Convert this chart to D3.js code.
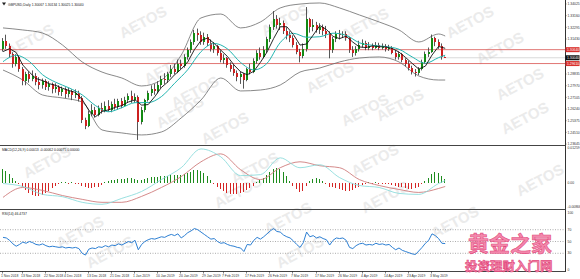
<!DOCTYPE html>
<html>
<head>
<meta charset="utf-8">
<script src="https://cdn.jsdelivr.net/npm/d3@7"></script>
<style>
  body { margin: 0; background: #fff; }
  svg { display: block; font-family: "Liberation Sans", Arial, sans-serif; }
</style>
</head>
<body>
<div id="chart"></div>
<script>
// GBPUSD daily candles
const opens = [1.3070,1.3125,1.3090,1.3030,1.2960,1.3010,1.2920,1.2830,1.2880,1.2845,1.2870,1.2825,1.2800,1.2835,1.2790,1.2810,1.2770,1.2790,1.2750,1.2770,1.2735,1.2760,1.2725,1.2745,1.2705,1.2540,1.2500,1.2590,1.2620,1.2580,1.2630,1.2610,1.2650,1.2620,1.2660,1.2640,1.2680,1.2650,1.2690,1.2720,1.2690,1.2710,1.2525,1.2620,1.2690,1.2740,1.2770,1.2760,1.2800,1.2850,1.2840,1.2880,1.2920,1.2900,1.2960,1.2940,1.3010,1.3060,1.3120,1.3190,1.3170,1.3120,1.3160,1.3110,1.3070,1.3090,1.3040,1.2990,1.3000,1.2950,1.2920,1.2890,1.2860,1.2880,1.2840,1.2920,1.2900,1.2980,1.3040,1.3010,1.3060,1.3140,1.3230,1.3290,1.3250,1.3260,1.3200,1.3170,1.3150,1.3100,1.3050,1.3020,1.3070,1.3290,1.3230,1.3250,1.3210,1.3230,1.3200,1.3180,1.3060,1.3140,1.3180,1.3170,1.3180,1.3150,1.3060,1.3040,1.3070,1.3100,1.3110,1.3080,1.3090,1.3080,1.3100,1.3080,1.3090,1.3070,1.3080,1.3040,1.3010,1.3030,1.2990,1.2960,1.2930,1.2900,1.2890,1.2920,1.2970,1.3030,1.3050,1.3150,1.3120,1.3090,1.30067];
const highs = [1.3150,1.3175,1.3110,1.3045,1.3030,1.3020,1.2935,1.2900,1.2900,1.2910,1.2890,1.2860,1.2850,1.2845,1.2830,1.2820,1.2815,1.2800,1.2790,1.2785,1.2780,1.2770,1.2770,1.2760,1.2720,1.2560,1.2610,1.2660,1.2640,1.2650,1.2670,1.2680,1.2690,1.2680,1.2700,1.2700,1.2705,1.2715,1.2740,1.2760,1.2740,1.2725,1.2640,1.2700,1.2760,1.2800,1.2810,1.2830,1.2870,1.2890,1.2900,1.2950,1.2960,1.2990,1.2990,1.3030,1.3080,1.3140,1.3210,1.3220,1.3200,1.3190,1.3180,1.3140,1.3120,1.3100,1.3060,1.3030,1.3010,1.2970,1.2950,1.2910,1.2900,1.2890,1.2930,1.2960,1.3000,1.3060,1.3080,1.3090,1.3160,1.3250,1.3350,1.3320,1.3300,1.3280,1.3230,1.3200,1.3170,1.3120,1.3070,1.3110,1.3380,1.3300,1.3290,1.3270,1.3260,1.3250,1.3240,1.3200,1.3160,1.3200,1.3210,1.3200,1.3200,1.3160,1.3090,1.3090,1.3130,1.3140,1.3130,1.3120,1.3110,1.3120,1.3115,1.3110,1.3105,1.3100,1.3090,1.3060,1.3050,1.3040,1.3000,1.2980,1.2945,1.2920,1.2935,1.2990,1.3050,1.3080,1.3176,1.3160,1.3140,1.3110,1.30134];
const lows = [1.3050,1.3070,1.3005,1.2930,1.2940,1.2900,1.2800,1.2800,1.2820,1.2830,1.2800,1.2770,1.2775,1.2765,1.2760,1.2740,1.2745,1.2725,1.2720,1.2705,1.2710,1.2690,1.2705,1.2680,1.2520,1.2475,1.2490,1.2570,1.2560,1.2570,1.2590,1.2600,1.2605,1.2600,1.2620,1.2620,1.2630,1.2640,1.2670,1.2670,1.2670,1.2395,1.2510,1.2600,1.2680,1.2720,1.2730,1.2740,1.2780,1.2810,1.2820,1.2860,1.2880,1.2890,1.2920,1.2930,1.2990,1.3040,1.3100,1.3130,1.3100,1.3100,1.3090,1.3050,1.3040,1.3020,1.2970,1.2960,1.2930,1.2900,1.2870,1.2830,1.2810,1.2775,1.2830,1.2880,1.2890,1.2960,1.2990,1.3000,1.3040,1.3120,1.3210,1.3220,1.3210,1.3180,1.3140,1.3120,1.3080,1.3030,1.2970,1.3000,1.3050,1.3190,1.3200,1.3190,1.3180,1.3170,1.3150,1.3000,1.3040,1.3120,1.3140,1.3150,1.3130,1.3040,1.3010,1.3020,1.3050,1.3080,1.3060,1.3060,1.3060,1.3070,1.3060,1.3065,1.3050,1.3055,1.3030,1.2990,1.2990,1.2970,1.2940,1.2910,1.2880,1.2865,1.2875,1.2910,1.2960,1.3010,1.3040,1.3090,1.3070,1.2990,1.30025];
const closes = [1.3125,1.3090,1.3030,1.2960,1.3010,1.2920,1.2830,1.2880,1.2845,1.2870,1.2825,1.2800,1.2835,1.2790,1.2810,1.2770,1.2790,1.2750,1.2770,1.2735,1.2760,1.2725,1.2745,1.2700,1.2540,1.2500,1.2590,1.2620,1.2580,1.2630,1.2610,1.2650,1.2620,1.2660,1.2640,1.2680,1.2650,1.2690,1.2720,1.2690,1.2710,1.2525,1.2620,1.2690,1.2740,1.2770,1.2760,1.2800,1.2850,1.2840,1.2880,1.2920,1.2900,1.2960,1.2940,1.3010,1.3060,1.3120,1.3190,1.3170,1.3120,1.3160,1.3110,1.3070,1.3090,1.3040,1.2990,1.3000,1.2950,1.2920,1.2890,1.2860,1.2880,1.2840,1.2920,1.2900,1.2980,1.3040,1.3010,1.3060,1.3140,1.3230,1.3290,1.3250,1.3260,1.3200,1.3170,1.3150,1.3100,1.3050,1.3020,1.3070,1.3290,1.3230,1.3250,1.3210,1.3230,1.3200,1.3180,1.3060,1.3140,1.3180,1.3170,1.3180,1.3150,1.3060,1.3040,1.3070,1.3100,1.3110,1.3080,1.3090,1.3080,1.3100,1.3080,1.3090,1.3070,1.3080,1.3040,1.3010,1.3030,1.2990,1.2960,1.2930,1.2900,1.2890,1.2920,1.2970,1.3030,1.3050,1.3150,1.3120,1.3090,1.3007,1.30040];

// overlays, sampled every few bars (last value sits on the last bar)
const maFast = [1.3050,1.3071,1.3043,1.2950,1.2897,1.2850,1.2835,1.2812,1.2799,1.2778,1.2761,1.2747,1.2694,1.2615,1.2566,1.2606,1.2618,1.2636,1.2650,1.2676,1.2692,1.2653,1.2657,1.2716,1.2784,1.2826,1.2878,1.2920,1.2974,1.3064,1.3132,1.3150,1.3110,1.3060,1.3014,1.2950,1.2900,1.2878,1.2904,1.2970,1.3046,1.3146,1.3234,1.3234,1.3176,1.3098,1.3106,1.3172,1.3242,1.3214,1.3162,1.3146,1.3164,1.3120,1.3084,1.3080,1.3092,1.3086,1.3084,1.3072,1.3046,1.3006,1.2962,1.2920,1.2942,1.3024,1.3088,1.3074];
const maSlow = [1.2975,1.3022,1.2976,1.2878,1.2822,1.2781,1.2729,1.2650,1.2604,1.2634,1.2671,1.2672,1.2716,1.2815,1.2916,1.3049,1.3110,1.3070,1.2969,1.2914,1.2963,1.3116,1.3185,1.3156,1.3160,1.3186,1.3170,1.3115,1.3096,1.3087,1.3067,1.3010,1.2963,1.3005,1.3023];
const bandUpper = [1.3225,1.3210,1.3187,1.3099,1.2973,1.2898,1.2854,1.2795,1.2839,1.3024,1.3299,1.3328,1.3225,1.3269,1.3373,1.3402,1.3410,1.3373,1.3321,1.3269,1.3210,1.3121,1.3180,1.3165];
const bandLower = [1.2913,1.2839,1.2728,1.2706,1.2676,1.2469,1.2447,1.2432,1.2454,1.2558,1.2691,1.2854,1.2758,1.2765,1.2802,1.2898,1.2928,1.2973,1.3002,1.3010,1.2973,1.2869,1.2839,1.2839];

// MACD panel
const macdHist = [0.0049,0.0042,0.00315,0.00175,0.0005,-0.00035,-0.0014,-0.0028,-0.00385,-0.00455,-0.0049,-0.0049,-0.00455,-0.00385,-0.00315,-0.0021,-0.00105,-0.00035,0.00018,0.00018,-0.00018,0.00018,-0.00018,-0.0005,-0.00105,-0.00175,-0.0021,-0.0021,-0.00175,-0.0014,-0.0009,0.00035,0.0007,0.0009,0.00105,0.0012,0.0012,0.0014,0.0016,0.0016,0.0014,0.0009,0.00105,0.0014,0.00175,0.0019,0.0019,0.0021,0.0023,0.0023,0.00245,0.0026,0.0026,0.0028,0.0028,0.00315,0.0035,0.00385,0.0044,0.00455,0.0042,0.0035,0.00245,0.00105,-0.00035,-0.0014,-0.00245,-0.00315,-0.00385,-0.0042,-0.0042,-0.0042,-0.00385,-0.0035,-0.0028,-0.0021,-0.00105,0.00035,0.00105,0.00175,0.0028,0.00385,0.0049,0.00525,0.0049,0.00385,0.00245,0.0007,-0.00105,-0.00245,-0.0035,-0.00315,-0.00105,0.0007,0.0014,0.00175,0.0014,0.0007,-0.00035,-0.0014,-0.00175,-0.0021,-0.00245,-0.0028,-0.00315,-0.00315,-0.0028,-0.0021,-0.0014,-0.0007,-0.00035,0.00018,-0.00018,0.00018,-0.00018,-0.00018,-0.00035,-0.00035,-0.0007,-0.00105,-0.0014,-0.00175,-0.0021,-0.00245,-0.00245,-0.0021,-0.0014,-0.00035,0.0007,0.00175,0.00315,0.00385,0.0035,0.00245,0.0014];
const macdMain = [-0.00035,-0.0014,-0.0042,-0.0050,-0.0070,-0.0077,-0.0056,-0.00315,0.00105,0.00525,0.0119,0.0091,0.00245,0.0028,0.00875,0.00525,0.0063,0.00175,-0.00105,-0.00175,-0.00385,-0.0042,-0.00035,0.0007];
const macdSignal = [-0.00525,-0.00175,-0.0028,-0.0046,-0.00595,-0.0070,-0.0070,-0.0049,-0.00175,0.0021,0.00735,0.01015,0.00455,0.00105,0.00525,0.00735,0.00595,0.00525,0.00105,-0.00105,-0.00245,-0.0035,-0.0021,-0.0014];

// RSI(14), one value per bar
const rsi = [57,56,52,46,42,45,49,47,50,48,45,44,46,43,41,42,41,40,41,39,40,39,40,38,30,27,37,39,38,41,40,43,41,44,43,46,44,47,50,48,52,36,45,50,53,55,54,56,58,57,60,62,60,63,56,60,65,68,72,70,66,62,58,54,55,50,47,48,45,43,42,40,39,33,45,44,52,57,54,58,63,68,72,67,66,61,58,56,51,45,40,48,66,58,60,56,58,55,53,44,52,56,55,56,52,40,38,43,46,47,44,45,44,47,45,46,44,45,40,36,39,35,33,31,29,28,34,40,47,52,63,60,55,47,46.47];

// axis labels
const priceTicks = [1.34025,1.33160,1.32295,1.31430,1.30565,1.29700,1.28835,1.27970,1.27105,1.26240,1.25375,1.24510,1.23645];
const redLevels = [1.30640, 1.29610];
const lastPrice = 1.30040;
const dateBars = [0,6,13,19,26,33,40,47,54,61,67,74,81,88,95,102,109,116,123,130];
const dateLabels = ["1 Nov 2018","13 Nov 2018","22 Nov 2018","4 Dec 2018","13 Dec 2018","21 Dec 2018","1 Jan 2019","10 Jan 2019","20 Jan 2019","29 Jan 2019","7 Feb 2019","17 Feb 2019","26 Feb 2019","7 Mar 2019","17 Mar 2019","26 Mar 2019","4 Apr 2019","14 Apr 2019","23 Apr 2019","3 May 2019"];
const macdTicks = [0.01259, 0, -0.00866];
const macdTickText = ["0.01259", "0.00", "-0.00866"];
const rsiTicks = [100, 70, 50, 30, 0];
const rsiLevels = [70, 50, 30];

const W = 580, H = 279, axisX = 565;
const N = closes.length;
const small = "3.4px";

const x = d3.scaleLinear().domain([0, N - 1]).range([3, 445.2]);
const yPrice = d3.scaleLinear().domain([1.23575, 1.3432]).range([145, 0]);
const yMacd = d3.scaleLinear().domain([-0.00866, 0.01259]).range([207, 147]);
const yRsi = d3.scaleLinear().domain([0, 100]).range([271, 212]);

const px = i => Math.round(x(i));

const svg = d3.select("#chart").append("svg")
    .attr("width", W)
    .attr("height", H);

svg.append("rect").attr("width", W).attr("height", H).attr("fill", "#fff");

// AETOS watermark, sits behind everything
const marks = [[143,22],[168,68],[285,20],[365,24],[330,77],[195,92],[470,22],[500,48],[520,84],[525,118],[400,105],[47,162],[180,112],[225,128],[365,110],[375,160],[255,168],[80,232],[238,192],[288,218],[385,197],[455,222],[540,180],[30,40],[110,252],[300,252]];
svg.append("g").selectAll("text").data(marks).join("text")
    .attr("transform", d => "translate(" + d[0] + "," + d[1] + ") rotate(-28)")
    .attr("text-anchor", "middle")
    .attr("dy", "0.35em")
    .style("font-size", "15px")
    .style("font-weight", "bold")
    .attr("fill", "#ebebeb")
    .text("AETOS");

// frame and panel separators
svg.append("line").attr("x1", axisX + 0.5).attr("x2", axisX + 0.5).attr("y1", 0).attr("y2", 272)
    .attr("stroke", "#333").attr("stroke-width", 1);
[145.5, 209.5, 271.5].forEach(yy => {
  svg.append("line").attr("x1", 0).attr("x2", axisX + 0.5).attr("y1", yy).attr("y2", yy)
      .attr("stroke", "#444").attr("stroke-width", 1.2);
});

// ---------- main panel ----------
const main = svg.append("g");

// horizontal levels
main.selectAll("line.lvl").data(redLevels).join("line")
    .attr("x1", 0).attr("x2", axisX)
    .attr("y1", d => yPrice(d)).attr("y2", d => yPrice(d))
    .attr("stroke", "#d9534f").attr("stroke-width", 0.8);
main.append("line")
    .attr("x1", 0).attr("x2", axisX)
    .attr("y1", yPrice(lastPrice)).attr("y2", yPrice(lastPrice))
    .attr("stroke", "#c8c8c8").attr("stroke-width", 0.7);

const sampled = (vals, step) => vals.map((v, k) => [Math.min(k * step, N - 1), v]);

const priceLine = d3.line().x(d => x(d[0])).y(d => yPrice(d[1]));
const smoothPrice = d3.line().x(d => x(d[0])).y(d => yPrice(d[1])).curve(d3.curveMonotoneX);

[bandUpper, bandLower].forEach(b => {
  main.append("path").attr("d", smoothPrice(sampled(b, 6)))
      .attr("fill", "none").attr("stroke", "#6b6b6b").attr("stroke-width", 0.8);
});

// candles
const bars = d3.range(N).map(i => ({ i, o: opens[i], h: highs[i], l: lows[i], c: closes[i] }));
const up = "#138a13", down = "#cc2020";

main.selectAll("line.wick").data(bars).join("line")
    .attr("x1", d => px(d.i) - 0.5).attr("x2", d => px(d.i) - 0.5)
    .attr("y1", d => yPrice(d.h)).attr("y2", d => yPrice(d.l))
    .attr("stroke", "#444").attr("stroke-width", 0.9);

main.selectAll("rect.body").data(bars).join("rect")
    .attr("x", d => px(d.i) - 1)
    .attr("width", 2)
    .attr("y", d => yPrice(Math.max(d.o, d.c)))
    .attr("height", d => Math.max(1, Math.abs(yPrice(d.o) - yPrice(d.c))))
    .attr("fill", d => d.c >= d.o ? up : down)
    .attr("shape-rendering", "crispEdges");

main.append("path").attr("d", smoothPrice(sampled(maSlow, 4)))
    .attr("fill", "none").attr("stroke", "#22b5b0").attr("stroke-width", 1);
main.append("path").attr("d", priceLine(sampled(maFast, 2)))
    .attr("fill", "none").attr("stroke", "#111").attr("stroke-width", 0.9);

// title
svg.append("path").attr("d", "M2,2.5 L6,2.5 L4,5.5 Z").attr("fill", "#222");
svg.append("text").attr("x", 8).attr("y", 5.5)
    .style("font-size", small).attr("fill", "#222")
    .text("GBPUSD,Daily  1.30067 1.30134 1.30025 1.30040");

// price axis
const axisText = (sel) => sel.style("font-size", small).attr("dy", "0.35em");

svg.append("g").selectAll("text").data(priceTicks).join("text")
    .attr("x", axisX + 2.5).attr("y", d => yPrice(d))
    .call(axisText).attr("fill", "#333")
    .text(d => d.toFixed(5));
svg.append("g").selectAll("line").data(priceTicks).join("line")
    .attr("x1", axisX).attr("x2", axisX + 1.5)
    .attr("y1", d => yPrice(d)).attr("y2", d => yPrice(d))
    .attr("stroke", "#333").attr("stroke-width", 0.6);

const tags = redLevels.map(v => ({ v, fill: "#d9302c" })).concat([{ v: lastPrice, fill: "#111" }]);
const tagG = svg.append("g").selectAll("g").data(tags).join("g")
    .attr("transform", d => "translate(" + axisX + "," + yPrice(d.v) + ")");
tagG.append("rect").attr("x", 0.5).attr("y", -2.5).attr("width", 14).attr("height", 5)
    .attr("fill", d => d.fill);
tagG.append("text").attr("x", 2).attr("y", 0).call(axisText)
    .attr("fill", "#fff").text(d => d.v.toFixed(5));

// ---------- MACD panel ----------
const macdG = svg.append("g");
macdG.selectAll("line.hist").data(macdHist).join("line")
    .attr("x1", (d, i) => px(i) - 0.5).attr("x2", (d, i) => px(i) - 0.5)
    .attr("y1", yMacd(0))
    .attr("y2", d => Math.abs(yMacd(d) - yMacd(0)) < 1 ? yMacd(0) + (d > 0 ? -1 : 1) : yMacd(d))
    .attr("stroke", d => d >= 0 ? "#1e8c1e" : "#d42424")
    .attr("stroke-width", 1)
    .attr("shape-rendering", "crispEdges");

const macdLine = d3.line().x(d => x(d[0])).y(d => yMacd(d[1])).curve(d3.curveMonotoneX);
macdG.append("path").attr("d", macdLine(sampled(macdSignal, 6)))
    .attr("fill", "none").attr("stroke", "#cf7d7d").attr("stroke-width", 0.9);
macdG.append("path").attr("d", macdLine(sampled(macdMain, 6)))
    .attr("fill", "none").attr("stroke", "#8fdcdc").attr("stroke-width", 0.9);

svg.append("text").attr("x", 2).attr("y", 150.5)
    .style("font-size", small).attr("fill", "#222")
    .text("MACD(12,26,9) 0.00013 -0.00062 0.00075 0.00000");

svg.append("g").selectAll("text").data(macdTicks).join("text")
    .attr("x", axisX + 2.5).attr("y", (d, i) => i === 0 ? yMacd(d) + 1 : yMacd(d))
    .call(axisText).attr("fill", "#333")
    .text((d, i) => macdTickText[i]);

// ---------- RSI panel ----------
const rsiG = svg.append("g");
rsiG.selectAll("line.lvl").data(rsiLevels).join("line")
    .attr("x1", 0).attr("x2", axisX)
    .attr("y1", d => yRsi(d)).attr("y2", d => yRsi(d))
    .attr("stroke", "#8a8a8a").attr("stroke-width", 0.7)
    .attr("stroke-dasharray", "1,1.5");

const rsiLine = d3.line().x((d, i) => x(i)).y(d => yRsi(d));
rsiG.append("path").attr("d", rsiLine(rsi))
    .attr("fill", "none").attr("stroke", "#2d7fd3").attr("stroke-width", 1);

svg.append("text").attr("x", 2).attr("y", 214.5)
    .style("font-size", small).attr("fill", "#222")
    .text("RSI(14) 46.4737");

svg.append("g").selectAll("text").data(rsiTicks).join("text")
    .attr("x", axisX + 2.5).attr("y", (d, i) => i === 0 ? yRsi(d) + 1 : yRsi(d) - (d === 0 ? 1 : 0))
    .call(axisText).attr("fill", "#333")
    .text(d => d);

// ---------- date axis ----------
const dateG = svg.append("g");
dateG.selectAll("line").data(dateBars).join("line")
    .attr("x1", d => px(d) - 0.5).attr("x2", d => px(d) - 0.5)
    .attr("y1", 271).attr("y2", 273.5)
    .attr("stroke", "#333").attr("stroke-width", 0.6);
dateG.selectAll("text").data(dateBars).join("text")
    .attr("x", d => Math.max(1, px(d) - 2)).attr("y", 277)
    .style("font-size", small).attr("fill", "#333")
    .text((d, i) => dateLabels[i]);

// site stamp in the corner
const stamp = svg.append("g")
    .style("font-family", "'Noto Sans CJK SC', sans-serif")
    .style("font-weight", "bold")
    .attr("fill", "#f388ac")
    .attr("stroke", "#e2487c")
    .attr("stroke-width", 0.6);
stamp.append("text").attr("x", 468).attr("y", 251)
    .style("font-size", "21px").text("黄金之家");
stamp.append("text").attr("x", 465).attr("y", 271)
    .style("font-size", "12.5px").text("投资理财入门网");
</script>
</body>
</html>
